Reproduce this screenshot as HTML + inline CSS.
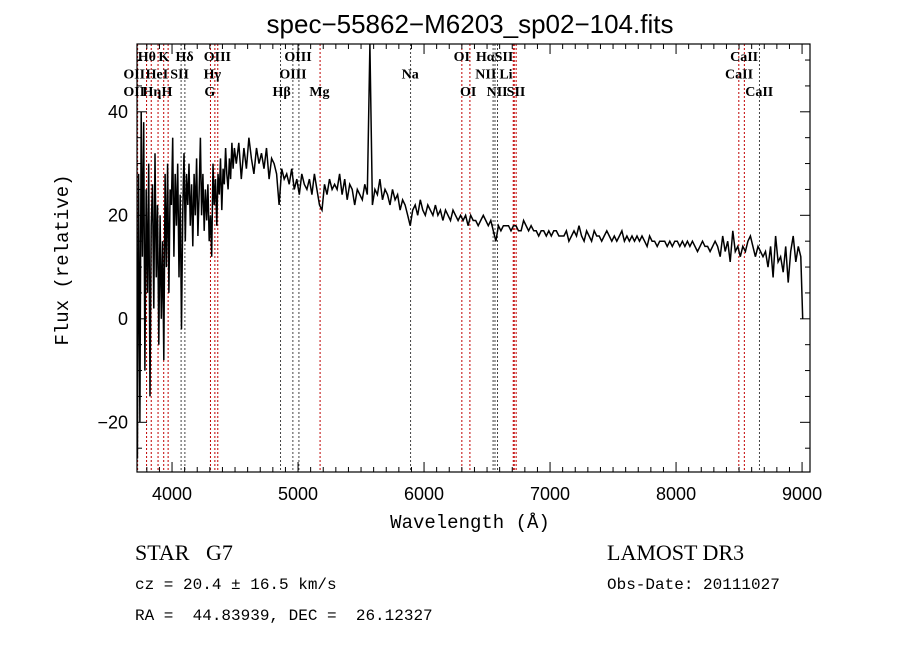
<!DOCTYPE html>
<html><head><meta charset="utf-8"><style>
html,body{margin:0;padding:0;background:#fff;}
svg{display:block;}
</style></head><body>
<svg id="chart" width="900" height="649" xmlns="http://www.w3.org/2000/svg">
<text x="470" y="33" font-family="Liberation Sans, sans-serif" font-size="26" text-anchor="middle">spec−55862−M6203_sp02−104.fits</text>
<g id="lines"></g>
<g id="labels" font-family="Liberation Serif, serif" font-size="14" font-weight="bold"></g>
<g id="axes"></g>
<path id="spec" fill="none" stroke="#000" stroke-width="1.5"/>
<text x="470" y="528" font-family="Liberation Mono, monospace" font-size="19" text-anchor="middle">Wavelength (Å)</text>
<text transform="translate(68,260) rotate(-90)" font-family="Liberation Mono, monospace" font-size="19" text-anchor="middle">Flux (relative)</text>
<text x="135" y="560" font-family="Liberation Serif, serif" font-size="22" xml:space="preserve">STAR   G7</text>
<text x="135" y="589" font-family="Liberation Mono, monospace" font-size="16">cz = 20.4 ± 16.5 km/s</text>
<text x="135" y="620" font-family="Liberation Mono, monospace" font-size="16" xml:space="preserve">RA =  44.83939, DEC =  26.12327</text>
<text x="607" y="560" font-family="Liberation Serif, serif" font-size="22">LAMOST DR3</text>
<text x="607" y="589" font-family="Liberation Mono, monospace" font-size="16">Obs-Date: 20111027</text>
</svg>
<script>
const blueStart = 3725, blueStep = 10;
const blueFlux = [-27,28,-20,40,12,38,-10,25,5,30,-15,18,26,2,32,8,22,-5,20,0,15,-8,28,10,30,5,25,22,35,12,28,18,30,8,24,-2,20,32,15,28,22,30,18,26,14,28,20,31,16,24,35,20,28,17,25,19,26,15,20,12,30,22,27,18,28,24,31,21,29,26,33,28,25,31,27,34,29,33];
const redStart = 4510, redStep = 20;
const redFlux = [30,34,27,33,29,35,31,28,33,30,
32,29,33,27,31,30,28,22,29,27,
28,26,29,25,27,24,28,26,25,27,
24,28,25,22,21,26,24,27,25,26,
25,28,24,27,23,26,25,22,25,24,
23,26,24,53,22,25,24,27,23,25,
24,22,25,23,24,21,23,22,20,18,
21,22,20,23,21,20,22,21,20,22,
20,21,19,21,20,19,21,20,19,20,
19,20,18,20,19,19,18,19,20,19,
18,19,17,15,18,17,18,18,18,17,
18,18,17,17,19,18,17,18,17,17,
16,17,17,16,17,16,17,17,16,16,
16,17,15,16,17,16,18,16,15,17,
16,15,17,16,16,15,16,17,16,15,
16,15,16,17,15,16,15,16,15,16,
15,16,15,14,16,15,15,14,15,15,
15,14,15,14,15,15,14,15,14,15,
14,15,14,13,14,15,14,14,13,14,
15,14,12,16,13,15,11,17,13,14,
12,14,13,15,16,14,12,14,13,12,
13,10,14,8,16,11,12,9,14,7,
13,16,11,14,12];
const endWave = [9005];
const endFlux = [0];
const xTicks = [4000,5000,6000,7000,8000,9000];
const yTicks = [-20,0,20,40];
const lineWaves = [3727,3798,3835,3889,3934,3969,4072,4102,4305,4340,4363,4861,4959,5007,5175,5893,6300,6364,6548,6563,6583,6708,6716,6731,8498,8542,8662];
const lineRed = [1,1,1,1,1,1,0,0,1,1,1,0,0,0,1,0,1,1,0,0,0,1,1,1,1,1,0];
const labelText = ["Hθ","K","Hδ","OIII","OIII","OI","HαSII","CaII","OII","HeI","SII","Hγ","OIII","Na","NII","Li","CaII","OII","Hη","H","G","Hβ","Mg","OI","NII","SII","CaII"];
const labelWave = [3800,3935,4100,4360,5000,6300,6560,8540,3700,3880,4060,4320,4960,5890,6490,6650,8500,3700,3840,3960,4300,4870,5170,6350,6580,6730,8660];
const labelRow = [0,0,0,0,0,0,0,0,1,1,1,1,1,1,1,1,1,2,2,2,2,2,2,2,2,2,2];

const X0=137,X1=810,Y0=44,Y1=472;
const xmin=3722,xmax=9063,ymin=-29.6,ymax=53.1;
const sx=v=>X0+(v-xmin)/(xmax-xmin)*(X1-X0);
const sy=v=>Y1-(v-ymin)/(ymax-ymin)*(Y1-Y0);
const NS='http://www.w3.org/2000/svg';
function mk(tag,parent,attrs){const e=document.createElementNS(NS,tag);for(const k in attrs)e.setAttribute(k,attrs[k]);parent.appendChild(e);return e;}

const lg=document.getElementById('lines');
lineWaves.forEach((w,i)=>{
  const l=mk('line',lg,{x1:sx(w),x2:sx(w),y1:Y0,y2:Y1,stroke:lineRed[i]?'#c00000':'#444','stroke-width':1,'stroke-dasharray':'2,2'});
  
  
});
const lb=document.getElementById('labels');
labelText.forEach((t,i)=>{
  const e=mk('text',lb,{x:sx(labelWave[i]),y:61+labelRow[i]*17.5,'text-anchor':'middle'});
  e.textContent=t;
  
  
});

const ax=document.getElementById('axes');
mk('rect',ax,{x:X0,y:Y0,width:X1-X0,height:Y1-Y0,fill:'none',stroke:'#000','stroke-width':1.2});
for(let w=3800;w<=9000;w+=100){
  const major=w%1000===0, L=major?10:5;
  mk('line',ax,{x1:sx(w),x2:sx(w),y1:Y1,y2:Y1-L,stroke:'#000'});
  mk('line',ax,{x1:sx(w),x2:sx(w),y1:Y0,y2:Y0+L,stroke:'#000'});
}
for(let v=-25;v<=50;v+=5){
  const major=v%20===0, L=major?10:5;
  mk('line',ax,{x1:X0,x2:X0+L,y1:sy(v),y2:sy(v),stroke:'#000'});
  mk('line',ax,{x1:X1,x2:X1-L,y1:sy(v),y2:sy(v),stroke:'#000'});
}
xTicks.forEach(t=>{
  const e=mk('text',ax,{x:sx(t),y:Y1+28,'text-anchor':'middle','font-family':'Liberation Sans, sans-serif','font-size':18});
  e.textContent=t;
  
  
});
yTicks.forEach(t=>{
  const e=mk('text',ax,{x:X0-9,y:sy(t)+6,'text-anchor':'end','font-family':'Liberation Sans, sans-serif','font-size':18});
  e.textContent=t<0?'−'+(-t):t;
  
  
});

let d='';
blueFlux.forEach((f,i)=>{d+=(d?'L':'M')+sx(blueStart+i*blueStep).toFixed(1)+','+sy(f).toFixed(1);});
redFlux.forEach((f,i)=>{d+='L'+sx(redStart+i*redStep).toFixed(1)+','+sy(f).toFixed(1);});
endWave.forEach((w,i)=>{d+='L'+sx(w).toFixed(1)+','+sy(endFlux[i]).toFixed(1);});
document.getElementById('spec').setAttribute('d',d);
</script>
</body></html>
